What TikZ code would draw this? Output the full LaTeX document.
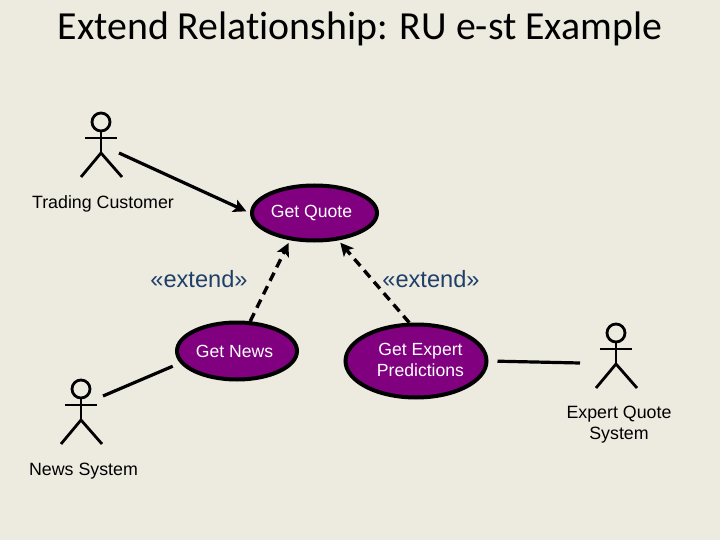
\documentclass[tikz,border=0pt]{standalone}
\usepackage{fontspec}
\setmainfont{Liberation Sans}
\newfontfamily\titlefont{Carlito}[Ligatures=NoCommon]
\usetikzlibrary{shapes.geometric,arrows.meta}
\definecolor{slide}{HTML}{EDEBE0}
\definecolor{ucpurple}{HTML}{800080}
\definecolor{stereo}{HTML}{1F3F68}

\tikzset{
    stickman/.pic={
        \draw [line width=2.8pt] (0,0) circle (9);
        \draw [line width=2.8pt] (-16,16) -- (16,16);
        \draw [line width=2.8pt] (0,9) -- (0,31);
        \draw [line width=2.8pt] (-20,55) -- (0,31) -- (21,55);
    }
}

\begin{document}
\begin{tikzpicture}[x=1pt,y=-1pt]
\tikzstyle{usecase}=
[
    %Formats the purple ovals
    ellipse,
    draw=black,
    fill=ucpurple,
    line width=4pt,
    inner sep=0pt,
    text=white,
    align=center,
    font=\fontsize{17.6}{21}\selectfont
]
\tikzstyle{actorname}=[text=black, align=center, font=\fontsize{17.8}{21}\selectfont]
\tikzstyle{stereotype}=[text=stereo, font=\fontsize{23.6}{26}\selectfont]
\tikzstyle{assoc}=[line width=3.2pt]
\tikzstyle{extendline}=[line width=3.4pt, dash pattern=on 9pt off 6pt, -{Stealth[length=13pt,width=13pt,inset=3pt]}]
%Sets page size and background
\fill [slide] (0,0) rectangle (720,540);
\useasboundingbox (0,0) rectangle (720,540);
\node (title) at (360,29) {\titlefont\fontsize{39.8}{44}\selectfont Extend Relationship: RU e-st Example};
%Adds the actors
\pic at (101,122) {stickman};
\pic at (81,389) {stickman};
\pic at (616,333) {stickman};
\node [actorname] (tradername) at (103,204) {Trading Customer};
\node [actorname] (newsname) at (83.5,471) {News System};
\node [actorname] (expertname) at (619,424.5) {Expert Quote\\System};
\coordinate (traderhand) at (119,153);
\coordinate (newshand) at (103,396);
\coordinate (experthand) at (580,363);
%Adds the use cases
\node [usecase, minimum width=125pt, minimum height=55pt] (quote) at (314.5,213) {Get Quote\hspace*{6pt}};
\node [usecase, minimum width=120pt, minimum height=57pt] (news) at (237,351) {Get News\hspace*{5pt}};
\node [usecase, minimum width=141pt, minimum height=73pt] (expert) at (416,361) {\hspace*{9pt}\raisebox{2pt}{Get Expert}\\\hspace*{9pt}\raisebox{2pt}{Predictions}};
\node [stereotype] (extendleft) at (199,279) {«extend»};
\node [stereotype] (extendright) at (431,279) {«extend»};
%Adds the connectors
\draw [assoc, -{Stealth[length=13pt,width=13pt,inset=3pt]}, shorten >=4pt] (traderhand) -- (quote.west);
\draw [assoc, shorten >=8pt] (newshand) -- (news.192);
\draw [assoc, shorten <=9pt] (expert.east) -- (experthand);
\draw [extendline, shorten >=3pt] (news.66) -- (quote.-132);
\draw [extendline, shorten >=3pt] (expert.100) -- (quote.-49);
\end{tikzpicture}
\end{document}
